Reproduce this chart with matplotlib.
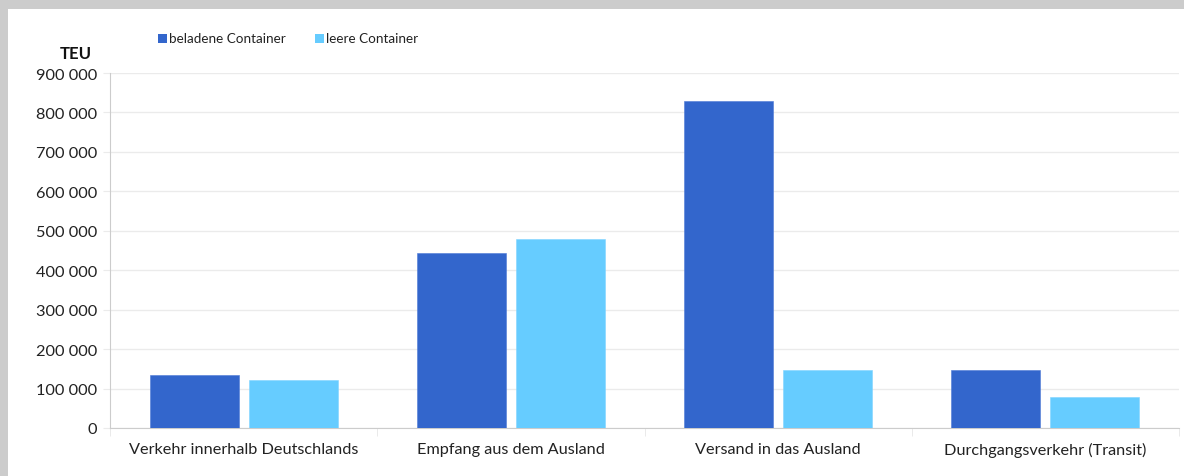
import matplotlib
matplotlib.use("Agg")
import matplotlib.pyplot as plt
from matplotlib.patches import Rectangle
import numpy as np

categories = ["Verkehr innerhalb Deutschlands", "Empfang aus dem Ausland",
              "Versand in das Ausland", "Durchgangsverkehr (Transit)"]
beladen = [135000, 443000, 830000, 146000]
leer = [121000, 478000, 146000, 79000]
series_names = ["beladene Container", "leere Container"]
yticks = [0, 100000, 200000, 300000, 400000, 500000, 600000, 700000, 800000, 900000]
ytick_labels = ["0", "100 000", "200 000", "300 000", "400 000", "500 000",
                "600 000", "700 000", "800 000", "900 000"]

plt.rcParams['font.family'] = ['Lato', 'DejaVu Sans']

W, H = 1184, 477
fig = plt.figure(figsize=(W / 100, H / 100), dpi=100)
fig.patch.set_facecolor("#cccccc")
fig.patches.append(Rectangle((8 / W, 0), 1 - 8 / W, (H - 10) / H, transform=fig.transFigure,
                             facecolor="white", edgecolor="none", zorder=-1))

ax = fig.add_axes([110 / W, (H - 429) / H, (1179 - 110) / W, (429 - 74) / H])
ax.set_facecolor("white")

x = np.arange(len(categories))
w = 0.333
off = 0.185
ax.bar(x - off, beladen, width=w, color="#3366cc", edgecolor="#4d79d6", linewidth=0.4, zorder=3)
ax.bar(x + off, leer, width=w, color="#66ccff", edgecolor="#80d4ff", linewidth=0.4, zorder=3)

ax.set_xlim(-0.5, len(categories) - 0.5)
ax.set_ylim(0, 900000)
ax.set_yticks(yticks)
ax.set_yticklabels(ytick_labels, fontsize=11.8, color="#222222")
ax.yaxis.grid(True, color="#ebebeb", linewidth=1, zorder=0)
ax.tick_params(axis="y", length=5, color="#ebebeb", pad=4)

ax.set_xticks(x)
ax.set_xticklabels(categories, fontsize=11.7, color="#222222")
ax.tick_params(axis="x", length=0, pad=10)
ax.set_xticks(np.arange(len(categories) + 1) - 0.5, minor=True)
ax.tick_params(axis="x", which="minor", length=6, color="#e6e6e6")

for s in ["top", "right"]:
    ax.spines[s].set_visible(False)
ax.spines["left"].set_color("#cccccc")
ax.spines["bottom"].set_color("#cccccc")

fig.text(60 / W, 1 - 54 / H, "TEU", fontsize=12, fontweight="bold", va="center", ha="left", color="#111111")

# legend
for name, col, px in [(series_names[0], "#3366cc", 158), (series_names[1], "#66ccff", 315)]:
    fig.patches.append(Rectangle((px / W, 1 - 44 / H), 9 / W, 9 / H, transform=fig.transFigure,
                                 facecolor=col, edgecolor="none"))
    fig.text((px + 11) / W, 1 - 39 / H, name, fontsize=9.7, va="center", ha="left", color="#222222")

fig.savefig("out.png", dpi=100, facecolor=fig.get_facecolor())
